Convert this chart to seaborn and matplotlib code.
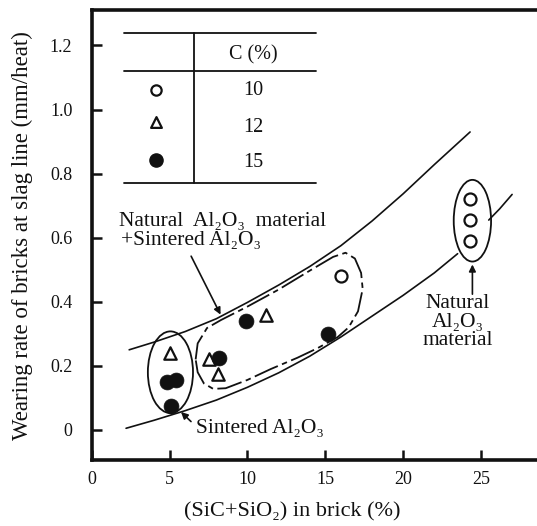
import numpy as np
import pandas as pd
import matplotlib
matplotlib.use("Agg")
import matplotlib.pyplot as plt
from matplotlib.patches import Ellipse
import seaborn as sns

sns.set_theme(style="ticks")
plt.rcParams["font.family"] = ["Liberation Serif", "DejaVu Serif"]

# Measured points, grouped by carbon content C (%)
c10_x = [16.0, 24.3, 24.3, 24.3]
c10_y = [0.48, 0.72, 0.655, 0.59]
c12_x = [5.0, 7.5, 8.1, 11.2]
c12_y = [0.24, 0.22, 0.175, 0.36]
c15_x = [4.8, 5.4, 5.1, 8.2, 9.9, 15.2]
c15_y = [0.15, 0.156, 0.075, 0.225, 0.34, 0.30]

# Upper and lower bounds of the scatter band
upper_x = [2.4, 4, 6, 8, 10, 12, 14, 16, 18, 20, 22, 24.3]
upper_y = [0.25, 0.274, 0.307, 0.347, 0.398, 0.452, 0.51, 0.575, 0.652, 0.737, 0.828, 0.93]
lower_x1 = [2.2, 4, 6, 8, 10, 12, 14, 16, 18, 20, 22, 23.5]
lower_y1 = [0.005, 0.03, 0.06, 0.093, 0.133, 0.178, 0.23, 0.29, 0.355, 0.42, 0.49, 0.55]
lower_x2 = [25.5, 26.2, 27.0]
lower_y2 = [0.655, 0.69, 0.735]

# Outline of the natural + sintered Al2O3 group
loop_x = [6.67, 6.8, 7.4, 8.3, 10, 12, 14, 15.5, 16.3, 16.9, 17.3, 17.4, 17.1, 16.5, 15.8,
          14.5, 13.2, 11.5, 10, 8.6, 7.8, 7.2, 6.8, 6.67]
loop_y = [0.22, 0.27, 0.318, 0.343, 0.385, 0.438, 0.497, 0.54, 0.553, 0.535, 0.49, 0.44, 0.37,
          0.32, 0.29, 0.255, 0.225, 0.19, 0.156, 0.13, 0.128, 0.145, 0.18, 0.22]

x_ticks = [0, 5, 10, 15, 20, 25]
y_ticks = [0, 0.2, 0.4, 0.6, 0.8, 1.0, 1.2]
y_tick_labels = ["0", "0.2", "0.4", "0.6", "0.8", "1.0", "1.2"]
legend_values = ["10", "12", "15"]

fig = plt.figure(figsize=(5.37, 5.26), dpi=100)
ax = fig.add_axes([0.171, 0.1255, 0.829, 0.855])

ink = "#111111"

sns.lineplot(x=upper_x, y=upper_y, ax=ax, color=ink, lw=1.2, sort=False, estimator=None)
sns.lineplot(x=lower_x1, y=lower_y1, ax=ax, color=ink, lw=1.2, sort=False, estimator=None)
sns.lineplot(x=lower_x2, y=lower_y2, ax=ax, color=ink, lw=1.2, sort=False, estimator=None)
ax.plot(loop_x, loop_y, color=ink, lw=1.3, linestyle=(0, (14, 2.5, 3, 2.5)))

ax.add_patch(Ellipse((5.05, 0.18), 2.9, 0.255, fill=False, ec=ink, lw=1.3))
ax.add_patch(Ellipse((24.45, 0.653), 2.4, 0.255, fill=False, ec=ink, lw=1.3))

sns.scatterplot(x=c10_x, y=c10_y, ax=ax, marker="o", s=75, facecolor="white", edgecolor=ink, linewidth=1.6, zorder=5)
sns.scatterplot(x=c12_x, y=c12_y, ax=ax, marker="^", s=80, facecolor="white", edgecolor=ink, linewidth=1.6, zorder=5)
sns.scatterplot(x=c15_x, y=c15_y, ax=ax, marker="o", s=115, color=ink, edgecolor=ink, linewidth=0.5, zorder=5)

# Legend table
ax.plot([2.05, 14.4], [1.24, 1.24], color=ink, lw=1.3)
ax.plot([2.05, 14.4], [1.119, 1.119], color=ink, lw=1.3)
ax.plot([2.05, 14.4], [0.772, 0.772], color=ink, lw=1.3)
ax.plot([6.54, 6.54], [0.772, 1.24], color=ink, lw=1.3)
ax.text(10.4, 1.155, "C (%)", ha="center", va="baseline", fontsize=14.5, color=ink)
row_y = [1.0625, 0.96, 0.844]
row_base = [1.047, 0.93, 0.82]
ax.scatter([4.1], [row_y[0]], marker="o", s=55, facecolor="white", edgecolor=ink, linewidth=1.6)
ax.scatter([4.1], [row_y[1]], marker="^", s=60, facecolor="white", edgecolor=ink, linewidth=1.6)
ax.scatter([4.1], [row_y[2]], marker="o", s=90, color=ink)
for v, yy in zip(legend_values, row_base):
    ax.text(10.4, yy, v, ha="center", va="baseline", fontsize=14.5, color=ink)

# Group labels
ax.annotate("", xy=(8.35, 0.352), xytext=(6.3, 0.55),
            arrowprops=dict(arrowstyle="-|>", color=ink, lw=1.2, mutation_scale=10))
ax.text(1.73, 0.637, "Natural  Al₂O₃  material", ha="left", va="baseline", fontsize=15.5, color=ink)
ax.text(1.9, 0.578, "+Sintered Al₂O₃", ha="left", va="baseline", fontsize=15.5, color=ink)

ax.annotate("", xy=(5.6, 0.062), xytext=(6.5, 0.02),
            arrowprops=dict(arrowstyle="-|>", color=ink, lw=1.2, mutation_scale=10))
ax.text(6.67, -0.01, "Sintered Al₂O₃", ha="left", va="baseline", fontsize=15.5, color=ink)

ax.annotate("", xy=(24.45, 0.525), xytext=(24.45, 0.415),
            arrowprops=dict(arrowstyle="-|>", color=ink, lw=1.2, mutation_scale=10))
for line, yb in zip(["Natural", "Al₂O₃", "material"], [0.38, 0.32, 0.266]):
    ax.text(23.5, yb, line, ha="center", va="baseline", fontsize=15.5, color=ink)

ax.set_xlim(0, 28.6)
ax.set_ylim(-0.094, 1.31)
ax.set_xticks(x_ticks)
ax.set_xticklabels([str(t) for t in x_ticks])
ax.set_yticks(y_ticks)
ax.set_yticklabels(y_tick_labels)
ax.tick_params(axis="both", direction="in", length=7, width=1.8, colors=ink, labelsize=13)
ax.tick_params(axis="x", pad=8)
ax.tick_params(axis="y", pad=14)

for side in ["left", "bottom", "top"]:
    ax.spines[side].set_linewidth(2.6)
    ax.spines[side].set_color(ink)
ax.spines["right"].set_visible(False)

ax.set_xlabel("(SiC+SiO₂) in brick (%)", fontsize=16, color=ink)
ax.xaxis.set_label_coords(0.45, -0.095)
ax.set_ylabel("Wearing rate of bricks at slag line (mm/heat)", fontsize=16.5, color=ink, labelpad=12)

fig.savefig("out.png", dpi=100, facecolor="white")
